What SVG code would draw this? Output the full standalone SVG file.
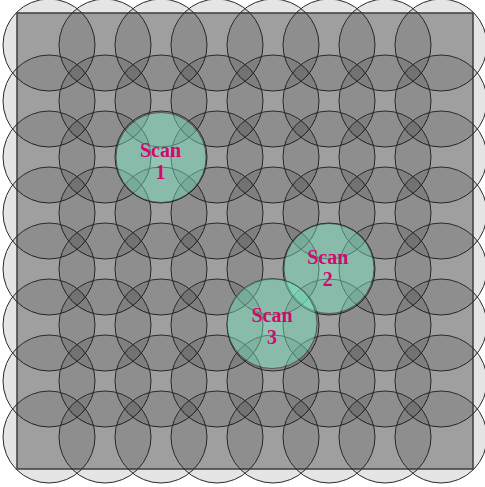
<svg xmlns="http://www.w3.org/2000/svg" width="485" height="487" viewBox="0 0 485 487">
<style>
.g{fill:#000;fill-opacity:0.1;stroke:#2a2a2a;stroke-width:1}
.s{fill:#7fffd4;fill-opacity:0.4;stroke:#2a2a2a;stroke-opacity:0.6;stroke-width:1}
.t{font-family:"Liberation Serif",serif;font-weight:bold;font-size:20px;fill:#d10a6e;text-anchor:middle}
</style>
<rect width="485" height="487" fill="#fff"/>
<rect id="area" x="17" y="13" width="456" height="456" fill="#b2b2b2" stroke="#444" stroke-width="1.5"/>
<g id="grid">
<g id="r1"><circle class="g" cx="49" cy="45" r="46"/><circle class="g" cx="105" cy="45" r="46"/><circle class="g" cx="161" cy="45" r="46"/><circle class="g" cx="217" cy="45" r="46"/><circle class="g" cx="273" cy="45" r="46"/><circle class="g" cx="329" cy="45" r="46"/><circle class="g" cx="385" cy="45" r="46"/><circle class="g" cx="441" cy="45" r="46"/></g>
<g id="r2"><circle class="g" cx="49" cy="101" r="46"/><circle class="g" cx="105" cy="101" r="46"/><circle class="g" cx="161" cy="101" r="46"/><circle class="g" cx="217" cy="101" r="46"/><circle class="g" cx="273" cy="101" r="46"/><circle class="g" cx="329" cy="101" r="46"/><circle class="g" cx="385" cy="101" r="46"/><circle class="g" cx="441" cy="101" r="46"/></g>
<g id="r3"><circle class="g" cx="49" cy="157" r="46"/><circle class="g" cx="105" cy="157" r="46"/><circle class="g" cx="161" cy="157" r="46"/><circle class="g" cx="217" cy="157" r="46"/><circle class="g" cx="273" cy="157" r="46"/><circle class="g" cx="329" cy="157" r="46"/><circle class="g" cx="385" cy="157" r="46"/><circle class="g" cx="441" cy="157" r="46"/></g>
<g id="r4"><circle class="g" cx="49" cy="213" r="46"/><circle class="g" cx="105" cy="213" r="46"/><circle class="g" cx="161" cy="213" r="46"/><circle class="g" cx="217" cy="213" r="46"/><circle class="g" cx="273" cy="213" r="46"/><circle class="g" cx="329" cy="213" r="46"/><circle class="g" cx="385" cy="213" r="46"/><circle class="g" cx="441" cy="213" r="46"/></g>
<g id="r5"><circle class="g" cx="49" cy="269" r="46"/><circle class="g" cx="105" cy="269" r="46"/><circle class="g" cx="161" cy="269" r="46"/><circle class="g" cx="217" cy="269" r="46"/><circle class="g" cx="273" cy="269" r="46"/><circle class="g" cx="329" cy="269" r="46"/><circle class="g" cx="385" cy="269" r="46"/><circle class="g" cx="441" cy="269" r="46"/></g>
<g id="r6"><circle class="g" cx="49" cy="325" r="46"/><circle class="g" cx="105" cy="325" r="46"/><circle class="g" cx="161" cy="325" r="46"/><circle class="g" cx="217" cy="325" r="46"/><circle class="g" cx="273" cy="325" r="46"/><circle class="g" cx="329" cy="325" r="46"/><circle class="g" cx="385" cy="325" r="46"/><circle class="g" cx="441" cy="325" r="46"/></g>
<g id="r7"><circle class="g" cx="49" cy="381" r="46"/><circle class="g" cx="105" cy="381" r="46"/><circle class="g" cx="161" cy="381" r="46"/><circle class="g" cx="217" cy="381" r="46"/><circle class="g" cx="273" cy="381" r="46"/><circle class="g" cx="329" cy="381" r="46"/><circle class="g" cx="385" cy="381" r="46"/><circle class="g" cx="441" cy="381" r="46"/></g>
<g id="r8"><circle class="g" cx="49" cy="437" r="46"/><circle class="g" cx="105" cy="437" r="46"/><circle class="g" cx="161" cy="437" r="46"/><circle class="g" cx="217" cy="437" r="46"/><circle class="g" cx="273" cy="437" r="46"/><circle class="g" cx="329" cy="437" r="46"/><circle class="g" cx="385" cy="437" r="46"/><circle class="g" cx="441" cy="437" r="46"/></g>
</g>
<g id="scan1"><circle class="s" cx="161" cy="157.5" r="45"/><text class="t" x="160.5" y="157">Scan</text><text class="t" x="160.5" y="178.5">1</text></g>
<g id="scan2"><circle class="s" cx="329" cy="268.5" r="45"/><text class="t" x="327.7" y="264.3">Scan</text><text class="t" x="327.7" y="285.8">2</text></g>
<g id="scan3"><circle class="s" cx="272" cy="323.5" r="45"/><text class="t" x="272" y="322.3">Scan</text><text class="t" x="272" y="343.8">3</text></g>
</svg>
